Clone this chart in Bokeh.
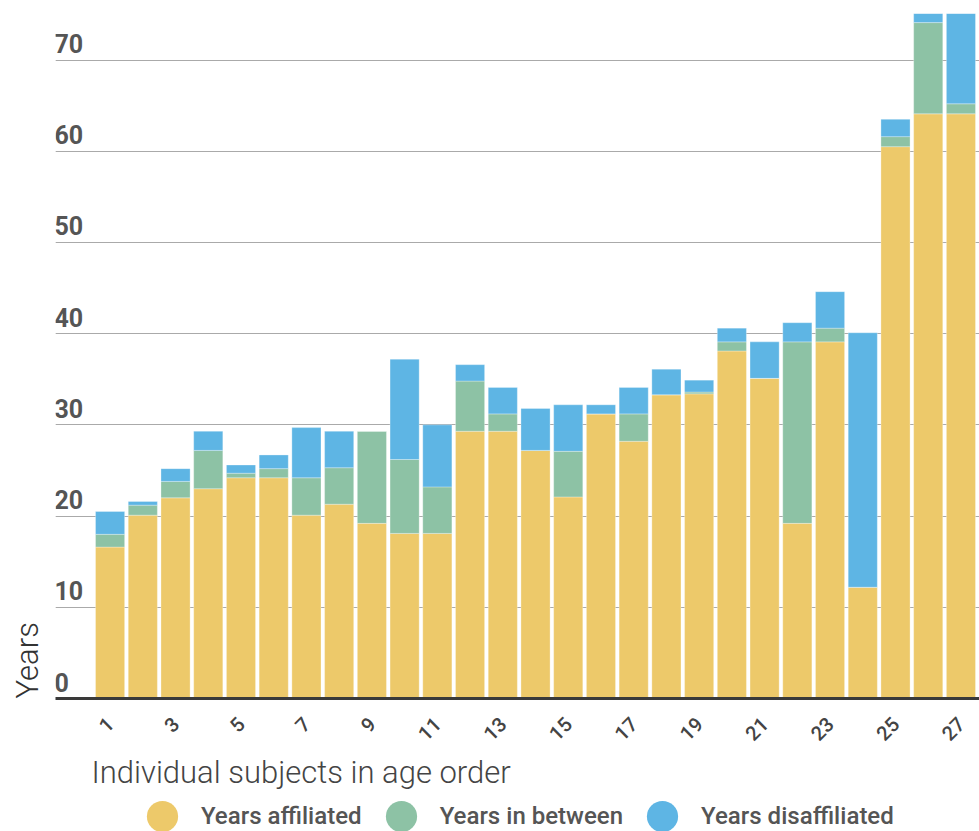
import math

from bokeh.core.properties import value
from bokeh.embed import file_html
from bokeh.layouts import column
from bokeh.models import (ColumnDataSource, FixedTicker, Grid, Legend,
                          LegendItem, Range1d, Title)
from bokeh.plotting import figure
from bokeh.resources import INLINE

# --- data -------------------------------------------------------------------
subjects = list(range(1, 28))
years_affiliated = [16.6, 20.1, 22.0, 23.0, 24.2, 24.2, 20.1, 21.3, 19.2, 18.1,
                    18.1, 29.3, 29.3, 27.2, 22.1, 31.2, 28.2, 33.3, 33.4, 38.1,
                    35.1, 19.2, 39.1, 12.2, 60.5, 64.1, 64.1]
years_between = [1.4, 1.1, 1.8, 4.2, 0.5, 1.0, 4.1, 4.0, 10.1, 8.1,
                 5.1, 5.5, 1.9, 0.0, 5.0, 0.0, 3.0, 0.0, 0.2, 1.0,
                 0.0, 19.9, 1.5, 0.0, 1.1, 10.0, 1.1]
years_disaffiliated = [2.5, 0.4, 1.4, 2.1, 0.9, 1.5, 5.5, 4.0, 0.0, 11.0,
                       6.8, 1.8, 2.9, 4.6, 5.1, 1.0, 2.9, 2.8, 1.3, 1.5,
                       4.0, 2.1, 4.0, 27.9, 1.9, 1.0, 9.9]
series_names = ["Years affiliated", "Years in between", "Years disaffiliated"]
y_ticks = [0, 10, 20, 30, 40, 50, 60, 70]
x_ticks = list(range(1, 28, 2))

# --- styling ----------------------------------------------------------------
colors = ["#EDC96A", "#8DC2A5", "#5EB5E4"]
X_START, X_END = -0.668, 27.567
Y_START, Y_END = 0, 75.1
BAR_WIDTH = 0.89
WIDTH = 979

source = ColumnDataSource(dict(
    subject=subjects,
    affiliated=years_affiliated,
    between=years_between,
    disaffiliated=years_disaffiliated,
))

p = figure(
    width=WIDTH, height=800,
    x_range=Range1d(X_START, X_END),
    y_range=Range1d(Y_START, Y_END),
    y_axis_location=None,
    toolbar_location=None,
    output_backend="svg",
    min_border_left=55, min_border_right=0,
    min_border_top=13, min_border_bottom=102,
)
p.outline_line_color = None
p.background_fill_color = "white"
p.border_fill_color = "white"
p.xgrid.visible = False

# horizontal gridlines
grid = Grid(dimension=1, ticker=FixedTicker(ticks=y_ticks[1:]),
            grid_line_color="#aaaaaa", grid_line_width=1)
p.add_layout(grid, "center")

# stacked bars
p.vbar_stack(["affiliated", "between", "disaffiliated"], x="subject",
             width=BAR_WIDTH, color=colors, line_color="white",
             line_width=0.6, line_alpha=0.5, source=source)

# y tick labels sit just above their gridlines, inside the frame
ylab = ColumnDataSource(dict(x=[X_START] * len(y_ticks), y=y_ticks,
                             t=[str(v) for v in y_ticks]))
p.text(x="x", y="y", text="t", source=ylab, text_align="left",
       text_baseline="bottom", y_offset=-7, x_offset=-1,
       text_font=value("Roboto"), text_font_style="bold",
       text_font_size="25px", text_color="#555555")

# x axis
xa = p.xaxis[0]
xa.ticker = FixedTicker(ticks=x_ticks)
xa.major_label_orientation = math.pi / 4
xa.major_label_standoff = 16
xa.major_label_text_font = "Roboto Medium"
xa.major_label_text_font_size = "20px"
xa.major_label_text_color = "#444444"
xa.axis_line_color = "#3a3a3a"
xa.axis_line_width = 3
xa.major_tick_line_color = None
xa.minor_tick_line_color = None

# axis titles
x_title = Title(text="Individual subjects in age order", align="left",
                offset=36, standoff=2, text_font="Roboto Light",
                text_font_size="31px", text_font_style="normal",
                text_color="#444444")
p.add_layout(x_title, "below")

y_title = Title(text="Years", align="left", vertical_align="top",
                standoff=16, text_font="Roboto Light", text_font_size="31px",
                text_font_style="normal", text_color="#333333")
p.add_layout(y_title, "left")

# legend strip under the chart, with round swatches
# (marker swatches are drawn at 0.4 of the glyph box, hence the large box)
leg = figure(width=WIDTH, height=31, toolbar_location=None,
             output_backend="svg", x_axis_location=None,
             y_axis_location=None, min_border=0)
leg.outline_line_color = None
leg.grid.visible = False
nan = float("nan")
swatches = [leg.scatter(x=[nan], y=[nan], marker="circle", size=31, color=c,
                        line_color=None) for c in colors]
legend = Legend(
    items=[LegendItem(label=n, renderers=[r]) for n, r in zip(series_names, swatches)],
    orientation="horizontal", location=(68, -24),
    glyph_width=78, glyph_height=78, label_standoff=0, spacing=0,
    padding=0, margin=0, border_line_color=None, background_fill_alpha=0,
    label_text_font="Roboto Medium", label_text_font_size="24px",
    label_text_color="#555555", label_height=31,
)
leg.add_layout(legend, "center")

page = column(p, leg, spacing=0)
open("out.html", "w").write(file_html(page, INLINE))
